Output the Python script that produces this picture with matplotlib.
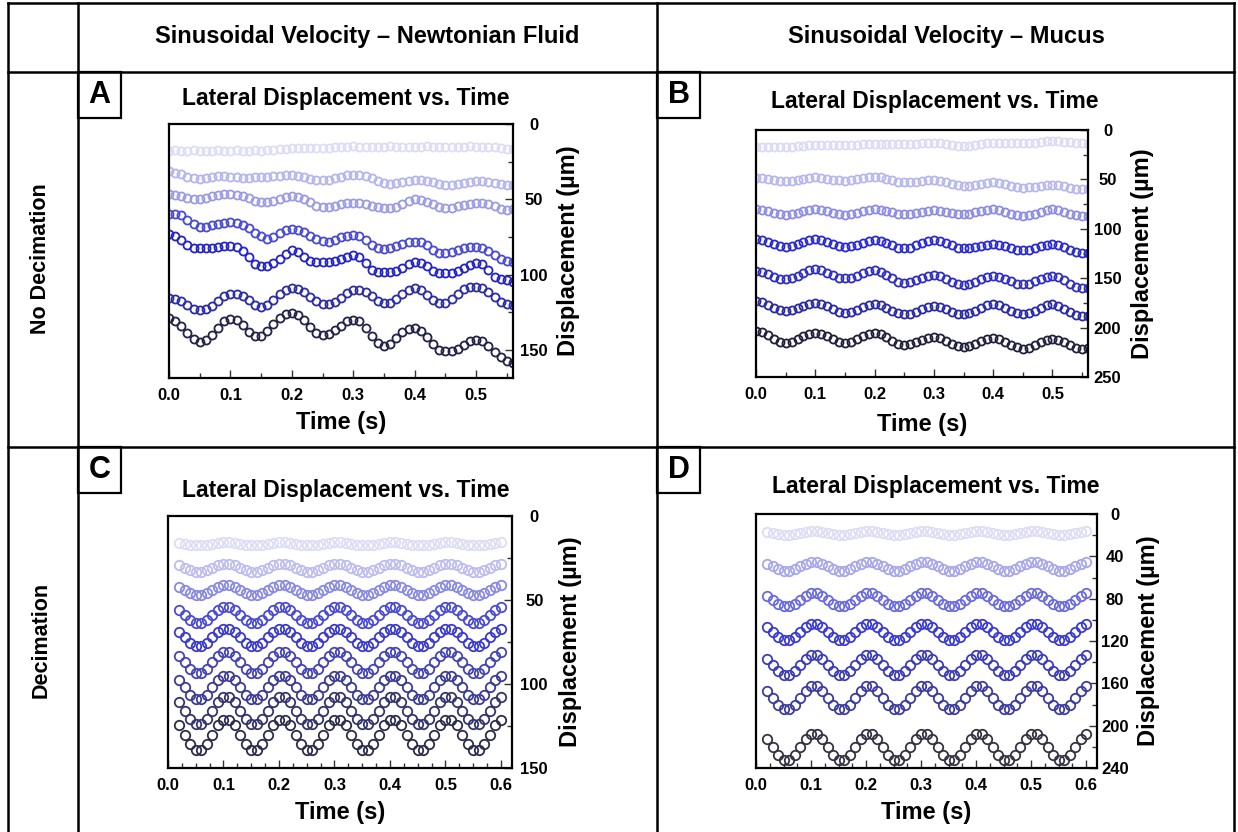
import numpy as np
import matplotlib.pyplot as plt
from matplotlib.patches import Rectangle
from matplotlib.lines import Line2D
from matplotlib.ticker import MultipleLocator

plt.rcParams['font.family'] = ['Liberation Sans', 'DejaVu Sans']
plt.rcParams['font.weight'] = 'bold'

# sample times (s)
t_ab = np.round(np.arange(0, 0.565, 0.01), 2)     # 0.00 .. 0.56
t_cd = np.round(np.arange(0.02, 0.605, 0.01), 2)  # 0.02 .. 0.60

# ---- A: sinusoidal velocity, newtonian fluid, no decimation (um)
a1 = [17.6,17.5,17.6,17.6,17.5,17.6,17.7,17.6,17.5,17.6,17.6,17.5,17.6,17.6,17.5,17.6,17.4,17.2,16.8,
      16.3,16.1,16.1,16.0,16.1,16.1,16.0,15.6,
      15.1,15.0,15.0,14.9,15.0,15.0,15.1,15.0,15.0,14.9,15.0,15.0,15.0,15.1,15.0,14.9,15.0,15.0,15.0,15.1,
      15.0,15.0,14.9,15.0,15.0,15.1,15.4,16.0,16.4,16.5]
a2 = [31.5,32.3,33.5,35.0,36.0,36.2,36.0,35.2,34.6,34.8,35.1,35.4,35.6,35.5,35.4,35.2,35.0,34.8,34.4,33.9,
      33.7,34.2,35.1,36.2,37.0,37.3,37.0,36.0,35.0,34.1,33.7,33.8,34.5,36.0,37.8,39.2,39.6,39.2,38.4,37.7,
      37.4,37.3,37.6,38.5,39.5,40.2,40.3,39.7,38.9,38.3,38.1,38.0,38.3,39.0,40.0,40.5,40.7]
a3 = [46.3,46.8,47.8,48.9,49.5,49.6,49.0,48.0,47.0,46.5,46.3,46.8,47.9,49.4,50.8,51.6,51.8,51.0,49.6,48.3,
      47.8,48.3,49.8,52.0,54.2,55.1,55.0,54.3,53.4,52.7,52.4,52.6,53.2,54.2,55.1,55.6,55.7,54.8,52.8,50.9,
      50.0,50.4,51.6,53.3,55.0,55.7,55.4,54.6,53.6,52.8,52.4,52.5,53.1,54.6,56.3,57.3,56.5]
a4 = [59.5,59.8,60.6,63.5,66.5,68.3,68.0,67.2,66.3,65.5,65.0,65.4,66.8,69.2,72.0,74.5,76.0,75.0,72.5,70.3,
      69.4,70.0,71.8,74.2,76.5,77.8,78.0,76.8,75.2,74.2,73.8,74.5,77.0,80.2,82.5,83.0,82.2,80.8,79.4,78.5,
      78.2,78.6,80.5,83.5,85.6,85.9,85.0,83.6,82.3,81.6,81.5,82.2,84.3,87.2,89.6,91.0,91.4]
a5 = [73.3,74.5,77.0,80.0,82.0,82.3,82.2,82.0,81.4,80.9,80.8,81.5,84.0,88.1,93.0,94.2,94.0,92.5,89.3,86.0,
      83.7,84.8,88.0,90.8,91.4,91.4,91.3,91.0,89.6,88.0,87.0,88.0,92.5,97.0,98.0,98.1,98.0,97.8,95.5,92.6,
      91.4,92.0,94.4,97.2,98.8,99.1,98.6,97.2,95.2,93.3,92.5,93.2,96.8,101.5,102.8,103.8,104.6]
a6 = [115.6,116.0,117.5,120.0,122.5,123.3,122.8,120.5,117.2,114.2,112.9,112.8,114.3,117.0,119.8,121.1,120.0,116.8,113.0,110.0,
      109.0,109.6,111.6,114.5,117.6,119.4,119.6,118.0,115.2,112.0,110.4,110.1,111.5,114.3,117.4,118.9,118.5,116.0,112.5,109.8,
      109.0,110.2,113.3,116.8,118.9,118.6,116.0,112.5,109.5,108.2,107.9,108.8,111.4,114.8,117.8,119.4,120.0]
a7 = [128.9,130.5,134.0,138.5,142.5,144.3,143.2,139.8,135.0,131.0,129.3,130.2,133.5,137.8,140.8,140.6,137.5,133.0,128.8,126.0,
      125.5,126.5,130.0,134.8,138.8,139.9,139.0,136.8,133.8,131.0,129.9,131.0,135.0,140.5,145.4,147.6,146.0,142.0,138.0,135.8,
      135.5,137.0,141.0,146.0,149.8,150.9,150.6,149.0,146.6,144.0,143.2,144.0,147.0,151.0,154.5,157.0,158.6]

# ---- B: sinusoidal velocity, mucus, no decimation (um)
b1 = [16.9,16.9,17.0,17.1,17.2,17.2,17.0,16.4,15.8,15.2,15.0,15.1,15.2,15.4,15.5,15.6,15.4,15.0,14.6,14.2,
      14.0,14.0,14.1,14.3,14.4,14.4,14.3,13.9,13.5,13.1,13.0,13.3,14.1,15.0,15.7,16.0,15.7,15.0,14.2,13.5,
      13.2,13.2,13.3,13.5,13.6,13.6,13.3,12.7,11.9,11.3,11.0,11.3,11.9,12.6,13.3,13.5,14.0]
b2 = [48.7,49.0,49.9,50.9,51.8,52.1,51.7,50.7,49.4,48.4,48.0,48.3,49.2,50.2,51.1,51.4,51.0,50.0,48.8,47.8,
      47.4,48.0,49.4,51.1,52.5,53.1,52.9,52.3,51.5,50.9,50.7,51.3,52.7,54.5,55.9,56.5,56.2,55.3,54.3,53.4,
      53.1,53.6,54.9,56.4,57.7,58.2,57.9,57.3,56.4,55.8,55.5,55.9,57.0,58.4,59.5,59.9,59.9]
b3 = [80.2,80.8,82.2,83.9,85.3,85.9,85.3,83.9,82.2,80.8,80.2,80.8,82.2,83.9,85.3,85.9,85.3,83.9,82.2,80.8,
      80.2,80.7,82.0,83.5,84.7,85.2,84.8,83.8,82.6,81.6,81.2,81.6,82.6,83.8,84.8,85.2,84.7,83.5,82.0,80.7,
      80.2,80.9,82.5,84.6,86.2,86.9,86.2,84.6,82.5,80.9,80.2,80.9,82.5,84.6,86.2,86.9,86.7]
b4 = [110.6,111.4,113.3,115.7,117.6,118.4,117.6,115.7,113.3,111.4,110.6,111.4,113.3,115.7,117.6,118.4,117.7,116.0,114.0,112.3,
      111.6,112.4,114.5,116.9,119.0,119.8,119.0,116.9,114.5,112.4,111.6,112.4,114.5,116.9,119.0,119.8,119.4,118.4,117.1,116.1,
      115.7,116.3,117.8,119.7,121.2,121.8,121.2,119.7,117.8,116.3,115.7,116.6,118.7,121.2,123.4,124.2,124.0]
b5 = [142.8,143.6,145.7,148.3,150.4,151.2,150.2,147.7,144.6,142.1,141.1,142.0,144.3,147.0,149.3,150.2,149.4,147.4,144.9,142.9,
      142.1,143.4,146.5,150.2,153.4,154.6,153.8,151.9,149.5,147.6,146.8,147.8,150.4,153.4,156.0,157.0,156.1,153.8,151.0,148.7,
      147.8,148.7,150.8,153.3,155.5,156.3,155.5,153.3,150.8,148.7,147.8,149.0,152.0,155.5,158.5,159.7,159.5]
b6 = [173.2,174.2,176.8,179.8,182.4,183.4,182.6,180.4,177.9,175.8,174.9,175.9,178.4,181.5,184.0,185.0,184.1,181.8,179.1,176.8,
      175.9,177.0,179.7,182.9,185.6,186.7,185.9,183.8,181.2,179.1,178.3,179.1,181.2,183.8,185.9,186.7,185.7,183.2,180.1,177.6,
      176.6,177.6,180.1,183.2,185.7,186.7,185.7,183.2,180.1,177.6,176.6,177.8,180.7,184.3,187.2,188.4,188.2]
b7 = [203.7,204.9,207.8,211.4,214.3,215.5,214.5,211.9,208.9,206.3,205.3,206.3,208.9,211.9,214.5,215.5,214.5,211.9,208.9,206.3,
      205.3,206.6,209.7,213.5,216.6,217.9,217.1,215.0,212.6,210.5,209.7,210.7,213.3,216.3,218.9,219.9,218.9,216.6,213.7,211.4,
      210.4,211.5,214.2,217.4,220.1,221.2,220.2,217.7,214.6,212.1,211.1,212.1,214.6,217.7,220.2,221.2,221.0]

# ---- C: sinusoidal velocity, newtonian fluid, decimation (um)
c1 = [15.8,16.4,17.0,17.4,17.4,17.0,16.4,15.8,15.5,15.5, 15.8,16.4,17.0,17.4,17.4,17.0,16.4,15.8,15.5,15.5,
      15.8,16.4,17.0,17.4,17.4,17.0,16.4,15.8,15.5,15.5, 15.8,16.4,17.0,17.4,17.4,17.0,16.4,15.8,15.5,15.5,
      15.8,16.4,17.0,17.4,17.4,17.0,16.4,15.8,15.5,15.5, 15.8,16.4,17.0,17.4,17.4,17.0,16.4,15.8,15.5]
c2 = [29.3,30.8,32.3,33.2,33.2,32.3,30.8,29.3,28.4,28.4, 29.3,30.8,32.3,33.2,33.2,32.3,30.8,29.3,28.4,28.4,
      29.3,30.8,32.3,33.2,33.2,32.3,30.8,29.3,28.4,28.4, 29.3,30.8,32.3,33.2,33.2,32.3,30.8,29.3,28.4,28.4,
      29.3,30.8,32.3,33.2,33.2,32.3,30.8,29.3,28.4,28.4, 29.3,30.8,32.3,33.2,33.2,32.3,30.8,29.3,28.4]
c3 = [42.3,44.1,45.9,47.0,47.0,45.9,44.1,42.3,41.2,41.2, 42.3,44.1,45.9,47.0,47.0,45.9,44.1,42.3,41.2,41.2,
      42.3,44.1,45.9,47.0,47.0,45.9,44.1,42.3,41.2,41.2, 42.3,44.1,45.9,47.0,47.0,45.9,44.1,42.3,41.2,41.2,
      42.3,44.1,45.9,47.0,47.0,45.9,44.1,42.3,41.2,41.2, 42.3,44.1,45.9,47.0,47.0,45.9,44.1,42.3,41.2]
c4 = [55.7,58.8,61.9,63.7,63.7,61.9,58.8,55.7,53.9,53.9, 55.7,58.8,61.9,63.7,63.7,61.9,58.8,55.7,53.9,53.9,
      55.7,58.8,61.9,63.7,63.7,61.9,58.8,55.7,53.9,53.9, 55.7,58.8,61.9,63.7,63.7,61.9,58.8,55.7,53.9,53.9,
      55.7,58.8,61.9,63.7,63.7,61.9,58.8,55.7,53.9,53.9, 55.7,58.8,61.9,63.7,63.7,61.9,58.8,55.7,53.9]
c5 = [69.1,72.3,75.5,77.4,77.4,75.5,72.3,69.1,67.2,67.2, 69.1,72.3,75.5,77.4,77.4,75.5,72.3,69.1,67.2,67.2,
      69.1,72.3,75.5,77.4,77.4,75.5,72.3,69.1,67.2,67.2, 69.1,72.3,75.5,77.4,77.4,75.5,72.3,69.1,67.2,67.2,
      69.1,72.3,75.5,77.4,77.4,75.5,72.3,69.1,67.2,67.2, 69.1,72.3,75.5,77.4,77.4,75.5,72.3,69.1,67.2]
c6 = [83.4,87.2,91.0,93.3,93.3,91.0,87.2,83.4,81.1,81.1, 83.4,87.2,91.0,93.3,93.3,91.0,87.2,83.4,81.1,81.1,
      83.4,87.2,91.0,93.3,93.3,91.0,87.2,83.4,81.1,81.1, 83.4,87.2,91.0,93.3,93.3,91.0,87.2,83.4,81.1,81.1,
      83.4,87.2,91.0,93.3,93.3,91.0,87.2,83.4,81.1,81.1, 83.4,87.2,91.0,93.3,93.3,91.0,87.2,83.4,81.1]
c7 = [97.6,102.0,106.4,109.0,109.0,106.4,102.0,97.6,95.0,95.0, 97.6,102.0,106.4,109.0,109.0,106.4,102.0,97.6,95.0,95.0,
      97.6,102.0,106.4,109.0,109.0,106.4,102.0,97.6,95.0,95.0, 97.6,102.0,106.4,109.0,109.0,106.4,102.0,97.6,95.0,95.0,
      97.6,102.0,106.4,109.0,109.0,106.4,102.0,97.6,95.0,95.0, 97.6,102.0,106.4,109.0,109.0,106.4,102.0,97.6,95.0]
c8 = [111.0,115.9,120.8,123.9,123.9,120.8,115.9,111.0,107.9,107.9, 111.0,115.9,120.8,123.9,123.9,120.8,115.9,111.0,107.9,107.9,
      111.0,115.9,120.8,123.9,123.9,120.8,115.9,111.0,107.9,107.9, 111.0,115.9,120.8,123.9,123.9,120.8,115.9,111.0,107.9,107.9,
      111.0,115.9,120.8,123.9,123.9,120.8,115.9,111.0,107.9,107.9, 111.0,115.9,120.8,123.9,123.9,120.8,115.9,111.0,107.9]
c9 = [124.6,130.2,135.8,139.2,139.2,135.8,130.2,124.6,121.2,121.2, 124.6,130.2,135.8,139.2,139.2,135.8,130.2,124.6,121.2,121.2,
      124.6,130.2,135.8,139.2,139.2,135.8,130.2,124.6,121.2,121.2, 124.6,130.2,135.8,139.2,139.2,135.8,130.2,124.6,121.2,121.2,
      124.6,130.2,135.8,139.2,139.2,135.8,130.2,124.6,121.2,121.2, 124.6,130.2,135.8,139.2,139.2,135.8,130.2,124.6,121.2]

# ---- D: sinusoidal velocity, mucus, decimation (um)
d1 = [16.7,18.0,19.3,20.1,20.1,19.3,18.0,16.7,15.9,15.9, 16.7,18.0,19.3,20.1,20.1,19.3,18.0,16.7,15.9,15.9,
      16.7,18.0,19.3,20.1,20.1,19.3,18.0,16.7,15.9,15.9, 16.7,18.0,19.3,20.1,20.1,19.3,18.0,16.7,15.9,15.9,
      16.7,18.0,19.3,20.1,20.1,19.3,18.0,16.7,15.9,15.9, 16.7,18.0,19.3,20.1,20.1,19.3,18.0,16.7,15.9]
d2 = [47.2,49.6,52.0,53.5,53.5,52.0,49.6,47.2,45.7,45.7, 47.2,49.6,52.0,53.5,53.5,52.0,49.6,47.2,45.7,45.7,
      47.2,49.6,52.0,53.5,53.5,52.0,49.6,47.2,45.7,45.7, 47.2,49.6,52.0,53.5,53.5,52.0,49.6,47.2,45.7,45.7,
      47.2,49.6,52.0,53.5,53.5,52.0,49.6,47.2,45.7,45.7, 47.2,49.6,52.0,53.5,53.5,52.0,49.6,47.2,45.7]
d3 = [77.4,81.1,84.8,87.1,87.1,84.8,81.1,77.4,75.1,75.1, 77.4,81.1,84.8,87.1,87.1,84.8,81.1,77.4,75.1,75.1,
      77.4,81.1,84.8,87.1,87.1,84.8,81.1,77.4,75.1,75.1, 77.4,81.1,84.8,87.1,87.1,84.8,81.1,77.4,75.1,75.1,
      77.4,81.1,84.8,87.1,87.1,84.8,81.1,77.4,75.1,75.1, 77.4,81.1,84.8,87.1,87.1,84.8,81.1,77.4,75.1]
d4 = [106.6,111.2,115.8,118.7,118.7,115.8,111.2,106.6,103.7,103.7, 106.6,111.2,115.8,118.7,118.7,115.8,111.2,106.6,103.7,103.7,
      106.6,111.2,115.8,118.7,118.7,115.8,111.2,106.6,103.7,103.7, 106.6,111.2,115.8,118.7,118.7,115.8,111.2,106.6,103.7,103.7,
      106.6,111.2,115.8,118.7,118.7,115.8,111.2,106.6,103.7,103.7, 106.6,111.2,115.8,118.7,118.7,115.8,111.2,106.6,103.7]
d5 = [137.1,142.7,148.3,151.7,151.7,148.3,142.7,137.1,133.7,133.7, 137.1,142.7,148.3,151.7,151.7,148.3,142.7,137.1,133.7,133.7,
      137.1,142.7,148.3,151.7,151.7,148.3,142.7,137.1,133.7,133.7, 137.1,142.7,148.3,151.7,151.7,148.3,142.7,137.1,133.7,133.7,
      137.1,142.7,148.3,151.7,151.7,148.3,142.7,137.1,133.7,133.7, 137.1,142.7,148.3,151.7,151.7,148.3,142.7,137.1,133.7]
d6 = [167.0,173.8,180.6,184.7,184.7,180.6,173.8,167.0,162.9,162.9, 167.0,173.8,180.6,184.7,184.7,180.6,173.8,167.0,162.9,162.9,
      167.0,173.8,180.6,184.7,184.7,180.6,173.8,167.0,162.9,162.9, 167.0,173.8,180.6,184.7,184.7,180.6,173.8,167.0,162.9,162.9,
      167.0,173.8,180.6,184.7,184.7,180.6,173.8,167.0,162.9,162.9, 167.0,173.8,180.6,184.7,184.7,180.6,173.8,167.0,162.9]
d7 = [212.7,220.1,227.5,232.1,232.1,227.5,220.1,212.7,208.1,208.1, 212.7,220.1,227.5,232.1,232.1,227.5,220.1,212.7,208.1,208.1,
      212.7,220.1,227.5,232.1,232.1,227.5,220.1,212.7,208.1,208.1, 212.7,220.1,227.5,232.1,232.1,227.5,220.1,212.7,208.1,208.1,
      212.7,220.1,227.5,232.1,232.1,227.5,220.1,212.7,208.1,208.1, 212.7,220.1,227.5,232.1,232.1,227.5,220.1,212.7,208.1]

cols_a = ['#dcdcf6', '#b4b4ee', '#9a9ae6', '#4a4ad4', '#2424c4', '#2c2ca6', '#22224a']
cols_b = ['#dadaf6', '#b6b6ee', '#8c8ce4', '#2a2ad2', '#2e2ec4', '#2a2aa6', '#20203e']
cols_c = ['#dcdcf6', '#bcbcf0', '#8888e6', '#4a4ad8', '#3a3acc', '#4444b4', '#3c3c94', '#34346e', '#2c2c4c']
cols_d = ['#dcdcf6', '#a6a6ec', '#6a6ae0', '#3a3ad2', '#3c3cb8', '#3c3ca0', '#333344']

col_headers = ['Sinusoidal Velocity \u2013 Newtonian Fluid', 'Sinusoidal Velocity \u2013 Mucus']
row_headers = ['No Decimation', 'Decimation']

W, H = 1238, 832
fig = plt.figure(figsize=(W / 100, H / 100), dpi=100)


def fx(px):
    return px / W


def fy(py):
    return 1 - py / H


def panel(box, t, series, cols, ymax, ymaj, ymin, xmax, xminor, ms, tpos, lpos, ypad):
    l, top, r, bot = box
    ax = fig.add_axes([fx(l), fy(bot), fx(r - l), (bot - top) / H])
    for y, c in zip(series, cols):
        ax.plot(t, y, 'o', mfc='none', mec=c, ms=ms, mew=1.3, ls='none')
    ax.set_xlim(0, xmax)
    ax.set_ylim(ymax, 0)
    ax.yaxis.tick_right()
    ax.yaxis.set_label_position('right')
    ax.xaxis.set_major_locator(MultipleLocator(0.1))
    ax.xaxis.set_minor_locator(MultipleLocator(xminor))
    ax.yaxis.set_major_locator(MultipleLocator(ymaj))
    ax.yaxis.set_minor_locator(MultipleLocator(ymin))
    ax.xaxis.set_major_formatter(lambda v, p: f'{v:.1f}')
    ax.tick_params(which='both', direction='in', left=False, right=True, top=False, bottom=True,
                   labelsize=12, width=1, colors='#333333', labelcolor='black')
    ax.tick_params(which='major', length=6)
    ax.tick_params(which='minor', length=3.5)
    ax.tick_params(axis='y', pad=ypad)
    ax.tick_params(axis='x', pad=7)
    for lab in ax.get_yticklabels():
        lab.set_horizontalalignment('center')
    for s in ax.spines.values():
        s.set_linewidth(1.6)
    ax.set_title('Lateral Displacement vs. Time', fontsize=16.5, fontweight='bold',
                 x=tpos[0], y=tpos[1], va='center', pad=0)
    ax.set_xlabel('Time (s)', fontsize=17, fontweight='bold', va='center')
    ax.set_ylabel('Displacement (\u00b5m)', fontsize=17, fontweight='bold', rotation=90, va='center')
    ax.xaxis.set_label_coords(0.5, lpos[0])
    ax.yaxis.set_label_coords(lpos[1], 0.5)
    return ax


panel((169, 124, 513, 378), t_ab, [a1, a2, a3, a4, a5, a6, a7], cols_a, 168.5, 50, 25, 0.56, 0.05, 5.8,
      (0.514, 1.102), (-0.177, 1.16), 15)
panel((756, 130, 1088, 377), t_ab, [b1, b2, b3, b4, b5, b6, b7], cols_b, 250, 50, 25, 0.56, 0.05, 5.8,
      (0.539, 1.117), (-0.193, 1.163), 14)
panel((168, 516, 512, 768), t_cd, [c1, c2, c3, c4, c5, c6, c7, c8, c9], cols_c, 150, 50, 25, 0.62, 0.025, 6.8,
      (0.517, 1.102), (-0.178, 1.169), 16)
panel((756, 514, 1097, 768), t_cd, [d1, d2, d3, d4, d5, d6, d7], cols_d, 240, 40, 20, 0.62, 0.025, 6.8,
      (0.526, 1.109), (-0.174, 1.15), 13)

# table grid
lw = 1.8
for x in (8, 78, 657, 1234):
    fig.add_artist(Line2D([fx(x), fx(x)], [fy(3), fy(832)], color='black', lw=lw))
for y in (3, 72, 447):
    fig.add_artist(Line2D([fx(8), fx(1234)], [fy(y), fy(y)], color='black', lw=lw))

fig.text(fx(367), fy(37), col_headers[0], ha='center', va='center', fontsize=17, fontweight='bold')
fig.text(fx(946), fy(37), col_headers[1], ha='center', va='center', fontsize=17, fontweight='bold')
fig.text(fx(41), fy(259), row_headers[0], ha='center', va='center', rotation=90, fontsize=15.5, fontweight='bold')
fig.text(fx(41), fy(640), row_headers[1], ha='center', va='center', rotation=90, fontsize=15.5, fontweight='bold')

# panel letters in boxes
for letter, (x0, y0) in zip('ABCD', [(78, 72), (657, 72), (78, 447), (657, 447)]):
    fig.add_artist(Rectangle((fx(x0), fy(y0 + 46)), 43 / W, 46 / H, fill=False, ec='black', lw=1.6))
    fig.text(fx(x0 + 21.5), fy(y0 + 23), letter, ha='center', va='center', fontsize=22, fontweight='bold')

fig.savefig('out.png', dpi=100)
